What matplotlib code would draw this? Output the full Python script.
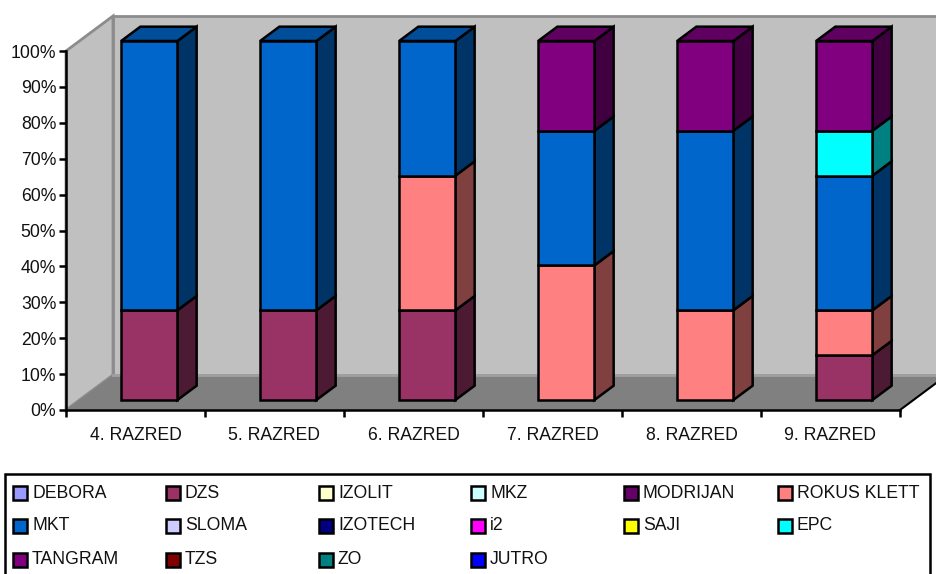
import matplotlib
matplotlib.use('Agg')
import matplotlib.pyplot as plt
from matplotlib.patches import Polygon, Rectangle

plt.rcParams['font.family'] = ['Liberation Sans', 'DejaVu Sans']

categories = ['4. RAZRED', '5. RAZRED', '6. RAZRED', '7. RAZRED', '8. RAZRED', '9. RAZRED']

# percent per class, stacked in legend order
debora = [0, 0, 0, 0, 0, 0]
dzs = [25, 25, 25, 0, 0, 12.5]
izolit = [0, 0, 0, 0, 0, 0]
mkz = [0, 0, 0, 0, 0, 0]
modrijan = [0, 0, 0, 0, 0, 0]
rokus = [0, 0, 37.5, 37.5, 25, 12.5]
mkt = [75, 75, 37.5, 37.5, 50, 37.5]
sloma = [0, 0, 0, 0, 0, 0]
izotech = [0, 0, 0, 0, 0, 0]
i2 = [0, 0, 0, 0, 0, 0]
saji = [0, 0, 0, 0, 0, 0]
epc = [0, 0, 0, 0, 0, 12.5]
tangram = [0, 0, 0, 25, 25, 25]
tzs = [0, 0, 0, 0, 0, 0]
zo = [0, 0, 0, 0, 0, 0]
jutro = [0, 0, 0, 0, 0, 0]

series = [debora, dzs, izolit, mkz, modrijan, rokus, mkt, sloma,
          izotech, i2, saji, epc, tangram, tzs, zo, jutro]
names = ['DEBORA', 'DZS', 'IZOLIT', 'MKZ', 'MODRIJAN', 'ROKUS KLETT', 'MKT', 'SLOMA',
         'IZOTECH', 'i2', 'SAJI', 'EPC', 'TANGRAM', 'TZS', 'ZO', 'JUTRO']
colors = ['#9999FF', '#993366', '#FFFFCC', '#CCFFFF', '#660066', '#FF8080', '#0066CC', '#CCCCFF',
          '#000080', '#FF00FF', '#FFFF00', '#00FFFF', '#800080', '#800000', '#008080', '#0000FF']


def shade(color, k):
    r, g, b = matplotlib.colors.to_rgb(color)
    return (r * k, g * k, b * k)


W, H = 936, 574
FS = 12.7
fig = plt.figure(figsize=(W / 100, H / 100), dpi=100, facecolor='white')
ax = fig.add_axes([66 / W, 1 - 410 / H, 834 / W, 359 / H])
ax.set_xlim(0, 6)
ax.set_ylim(0, 100)
ax.patch.set_visible(False)

# depth of the 3d box, in data units
DX = 47 / 139
DY = 35 / 3.59

ax.add_patch(Polygon([(DX, DY), (6 + DX, DY), (6 + DX, 100 + DY), (DX, 100 + DY)],
                     fc='#C0C0C0', ec='#8C8C8C', lw=2, clip_on=False, zorder=1))
ax.add_patch(Polygon([(0, 0), (DX, DY), (DX, 100 + DY), (0, 100)],
                     fc='#C0C0C0', ec='#8C8C8C', lw=2, clip_on=False, zorder=1))
ax.add_patch(Polygon([(0, 0), (6, 0), (6 + DX, DY), (DX, DY)],
                     fc='#808080', ec='none', clip_on=False, zorder=1.5))
ax.plot([DX, 6 + DX], [DY, DY], color='#A0A0A0', lw=2, clip_on=False, zorder=1.6)
ax.plot([6, 6 + DX], [0, DY], color='black', lw=1.5, clip_on=False, zorder=1.7)

# bars sit a bit over a quarter of the way into the box
front = 0.285
back = 0.695
bar_x = 0.30
bar_w = 0.405
ox, oy = DX * front, DY * front
sx, sy = DX * (back - front), DY * (back - front)

for i in range(len(categories)):
    bottom = 0
    top_color = None
    for vals, col in zip(series, colors):
        v = vals[i]
        if v == 0:
            continue
        x0 = i + bar_x + ox
        x1 = x0 + bar_w
        y0 = bottom + oy
        y1 = y0 + v
        ax.add_patch(Polygon([(x1, y0), (x1 + sx, y0 + sy), (x1 + sx, y1 + sy), (x1, y1)],
                             fc=shade(col, 0.5), ec='black', lw=1.8, clip_on=False, zorder=3,
                             joinstyle='miter'))
        ax.add_patch(Rectangle((x0, y0), bar_w, v, fc=col, ec='black', lw=1.8,
                               clip_on=False, zorder=4, joinstyle='miter'))
        bottom += v
        top_color = col
    y1 = bottom + oy
    x0 = i + bar_x + ox
    ax.add_patch(Polygon([(x0, y1), (x0 + bar_w, y1), (x0 + bar_w + sx, y1 + sy), (x0 + sx, y1 + sy)],
                         fc=shade(top_color, 0.75), ec='black', lw=1.8, clip_on=False, zorder=3,
                         joinstyle='miter'))

for s in ['top', 'right']:
    ax.spines[s].set_visible(False)
for s in ['left', 'bottom']:
    ax.spines[s].set_linewidth(1.8)
    ax.spines[s].set_zorder(2)

ax.set_yticks(range(0, 101, 10))
ax.set_yticklabels(['%d%%' % v for v in range(0, 101, 10)], fontsize=FS, color='#111111')
ax.set_xticks(range(7))
ax.set_xticklabels([])
ax.set_xticks([i + 0.5 for i in range(6)], minor=True)
ax.set_xticklabels(categories, minor=True, fontsize=FS, color='#111111')
ax.tick_params(axis='y', length=5, width=1.8, pad=2)
ax.tick_params(axis='x', which='major', length=5, width=1.8)
ax.tick_params(axis='x', which='minor', length=0, pad=12)

# legend is laid out by hand, columns are not evenly spaced in the original
lg = fig.add_axes([0, 0, 1, 1])
lg.set_xlim(0, W)
lg.set_ylim(H, 0)
lg.axis('off')
lg.patch.set_visible(False)
lg.add_patch(Rectangle((5, 474), 925, 110, fc='white', ec='black', lw=1.8))
col_x = [13, 166, 319, 471, 624, 778]
row_y = [493, 526, 560]
for k, (name, col) in enumerate(zip(names, colors)):
    r, c = divmod(k, 6)
    lg.add_patch(Rectangle((col_x[c], row_y[r] - 7), 14, 14, fc=col, ec='black', lw=1.8))
    lg.text(col_x[c] + 19, row_y[r], name, fontsize=FS, va='center', ha='left', color='#111111')

fig.savefig('out.png', dpi=100)
